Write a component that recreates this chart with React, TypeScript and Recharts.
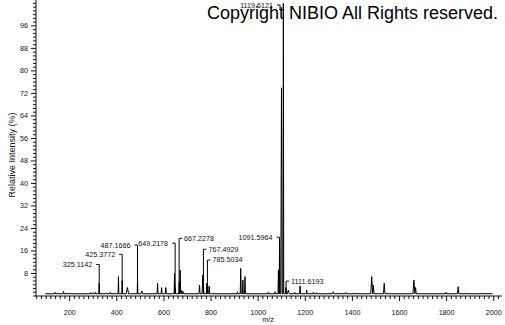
import React from 'react';
import { LineChart, Line, XAxis, YAxis, ReferenceLine, ReferenceDot } from 'recharts';

// ---- spectrum data (m/z on the plot's axis, relative intensity %) ----
const baselineIntensity = 0.8;
const spectrumStart = 96;
const spectrumEnd = 1995;

const peakMz = [
  139, 152, 174, 190, 287, 300, 310, 325.3, 352, 372,
  407, 423, 445, 488, 506, 573, 590, 608, 645, 648,
  665, 669, 676, 683, 751, 765, 768, 782, 785, 792,
  912, 926, 935, 944, 1043, 1072, 1086, 1090.8, 1099, 1107,
  1118, 1128, 1155, 1178, 1206, 1234, 1250, 1319, 1340, 1373,
  1408, 1482, 1489, 1535, 1661, 1668, 1797, 1849, 1880, 1950,
];
const peakIntensity = [
  1.3, 1.1, 1.6, 1.1, 1.2, 1.2, 1.3, 4.5, 1.1, 1.3,
  6.9, 5.5, 3.0, 5.7, 1.8, 4.5, 3.0, 3.0, 8.0, 3.0,
  5.0, 9.2, 2.0, 1.5, 3.9, 7.5, 4.0, 4.5, 4.0, 3.5,
  1.5, 9.8, 5.7, 6.9, 1.3, 1.5, 9.3, 19.5, 74, 104,
  3.0, 2.1, 1.3, 3.6, 2.1, 1.3, 1.2, 1.5, 1.1, 1.2,
  1.1, 6.9, 3.9, 4.5, 5.7, 3.0, 1.3, 3.3, 1.1, 1.1,
];
const peakHalfWidth = [
  2, 2, 2, 2, 2, 2, 2, 1.5, 2, 2,
  1.5, 1.5, 5, 1.5, 4, 2, 2, 2, 1.5, 1.5,
  1.5, 2, 2, 2, 2, 3, 1.5, 1.5, 1.5, 2,
  2, 2, 1.5, 2, 2, 2, 1.5, 1.5, 3, 1.5,
  1.5, 4, 2, 2, 2, 2, 2, 3, 2, 2,
  2, 4, 3, 3, 4, 3, 2, 3, 2, 2,
];

// ---- peak annotations ----
const annotationText = [
  '325.1142', '425.3772', '487.1666', '649.2178', '667.2278',
  '767.4929', '785.5034', '1091.5964', '1111.6193', '1119.6121',
];
const annotationMz = [325.3, 422.8, 487.7, 647.6, 664.5, 767.6, 784.6, 1090.8, 1118.3, 1092.9];
const annotationLevel = [11.2, 14.8, 18.1, 18.8, 20.5, 16.6, 12.8, 20.9, 5.3, 103.4];
const annotationLeaderEnd = [0.8, 0.8, 0.8, 0.8, 0.8, 0.8, 0.8, 0.8, 0.8, 102.0];
const annotationSide = ['left', 'left', 'left', 'left', 'right', 'right', 'right', 'left', 'right', 'left'];

// ---- axes ----
const xDomain = [57, 2035];
const yDomain = [0, 105.2];
const xTickLabels = [200, 400, 600, 800, 1000, 1200, 1400, 1600, 1800, 2000];
const yTickLabels = [8, 16, 24, 32, 40, 48, 56, 64, 72, 80, 88, 96];
const xMinorStep = 20;
const yMinorStep = 4 / 3;

const xTicks = Array.from({ length: 99 }, (_, i) => 60 + i * xMinorStep);
const yTicks = Array.from({ length: 79 }, (_, i) => i * yMinorStep);

const FONT = '"Liberation Sans", Arial, sans-serif';
const INK = '#111';

function buildSpectrum() {
  const pts: { mz: number; v: number }[] = [
    { mz: spectrumStart, v: baselineIntensity },
    { mz: spectrumEnd, v: baselineIntensity },
  ];
  peakMz.forEach((m, i) => {
    const w = peakHalfWidth[i];
    pts.push({ mz: m - w, v: baselineIntensity });
    pts.push({ mz: m, v: peakIntensity[i] });
    pts.push({ mz: m + w, v: baselineIntensity });
  });
  pts.sort((a, b) => a.mz - b.mz);
  return pts;
}
const spectrum = buildSpectrum();

const XTick = (props: any) => {
  const { x, y, payload } = props;
  const major = xTickLabels.includes(payload.value);
  return (
    <g>
      <line x1={x} x2={x} y1={y} y2={y + (major ? 5 : 3)} stroke={INK} strokeWidth={1} />
      {major && (
        <text x={x} y={y + 16} textAnchor="middle" dominantBaseline="central" fontSize={7.2} fontFamily={FONT} fill={INK}>
          {payload.value}
        </text>
      )}
    </g>
  );
};

const YTick = (props: any) => {
  const { x, y, payload } = props;
  const r = Math.round(payload.value);
  const major = Math.abs(payload.value - r) < 1e-6 && yTickLabels.includes(r);
  return (
    <g>
      <line x1={x} x2={x - (major ? 5 : 3)} y1={y} y2={y} stroke={INK} strokeWidth={1} />
      {major && (
        <text x={x - 8} y={y} textAnchor="end" dominantBaseline="central" fontSize={7.2} fontFamily={FONT} fill={INK}>
          {r}
        </text>
      )}
    </g>
  );
};

const makeLabelShape = (text: string, side: string) => (p: any) => {
  const { cx, cy } = p;
  const left = side === 'left';
  return (
    <g>
      <line x1={left ? cx - 3 : cx} x2={left ? cx : cx + 3} y1={cy} y2={cy} stroke={INK} strokeWidth={1} />
      <text
        x={left ? cx - 7 : cx + 5}
        y={cy}
        textAnchor={left ? 'end' : 'start'}
        dominantBaseline="central"
        fontSize={7.2}
        fontFamily={FONT}
        fill={INK}
      >
        {text}
      </text>
    </g>
  );
};

export default function App() {
  return (
    <div style={{ position: 'absolute', left: 0, top: 0, width: 505, height: 325, background: '#fff' }}>
      <LineChart width={505} height={325} data={spectrum} margin={{ top: 0, right: 3, bottom: 0, left: 0 }}>
        <XAxis
          dataKey="mz"
          type="number"
          domain={xDomain}
          ticks={xTicks}
          interval={0}
          allowDataOverflow
          height={29}
          tickLine={false}
          tickSize={0}
          tickMargin={0}
          axisLine={{ stroke: INK, strokeWidth: 1 }}
          tick={<XTick />}
        />
        <YAxis
          type="number"
          domain={yDomain}
          ticks={yTicks}
          interval={0}
          allowDataOverflow
          width={36}
          tickLine={false}
          tickSize={0}
          tickMargin={0}
          axisLine={{ stroke: INK, strokeWidth: 1 }}
          tick={<YTick />}
        />
        <Line
          dataKey="v"
          type="linear"
          dot={false}
          activeDot={false}
          stroke="#000"
          strokeWidth={1}
          isAnimationActive={false}
        />
        {annotationText.map((t, i) => (
          <ReferenceLine
            key={'l' + i}
            segment={[
              { x: annotationMz[i], y: annotationLevel[i] },
              { x: annotationMz[i], y: annotationLeaderEnd[i] },
            ]}
            stroke="#000"
            strokeWidth={1}
            ifOverflow="visible"
          />
        ))}
        {annotationText.map((t, i) => (
          <ReferenceDot
            key={'d' + i}
            x={annotationMz[i]}
            y={annotationLevel[i]}
            r={1}
            ifOverflow="visible"
            shape={makeLabelShape(t, annotationSide[i])}
          />
        ))}
      </LineChart>
      <svg
        width={505}
        height={325}
        style={{ position: 'absolute', left: 0, top: 0, pointerEvents: 'none' }}
      >
        <text x={207} y={19} fontSize={18} fontFamily={FONT} fill="#000">
          Copyright NIBIO All Rights reserved.
        </text>
        <text
          x={12}
          y={155}
          fontSize={9}
          fontFamily={FONT}
          fill={INK}
          textAnchor="middle"
          dominantBaseline="central"
          transform="rotate(-90 12 155)"
        >
          Relative Intensity (%)
        </text>
        <text x={268} y={319} fontSize={7.2} fontFamily={FONT} fill={INK} textAnchor="middle" dominantBaseline="central">
          m/z
        </text>
      </svg>
    </div>
  );
}
